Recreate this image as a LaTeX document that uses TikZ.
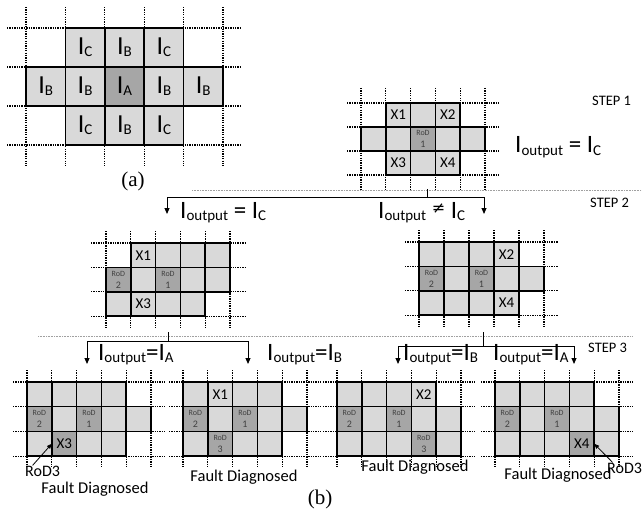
\documentclass[tikz,border=0pt]{standalone}
\usepackage{fontspec}
\setmainfont{Carlito}
\newfontfamily\serifA{Liberation Serif}
\newfontfamily\dejavu{DejaVu Sans}
\usetikzlibrary{arrows.meta}
\definecolor{cellL}{HTML}{D9D9D9}
\definecolor{cellD}{HTML}{A6A6A6}
\definecolor{sepgray}{HTML}{A0A0A0}
\newcommand\Isub[1]{I\raisebox{-2pt}{\fontsize{15}{15}\selectfont #1}}
\newcommand\gridlines[2]{%
  \foreach \i in {0,...,5}{\draw[gdot] ({\gx+\i*\gw},{\gy-#2}) -- ({\gx+\i*\gw},{\gy+3*\gh+#2});}
  \foreach \j in {0,...,3}{\draw[gdot] ({\gx-#1},{\gy+\j*\gh}) -- ({\gx+5*\gw+#1},{\gy+\j*\gh});}}
\newcommand\cel[5]{\node[#4,minimum width=\gw pt,minimum height=\gh pt] (#1) at ({\gx+(#2+0.5)*\gw},{\gy+(#3+0.5)*\gh}) {#5};}
\newcommand\rod[1]{\fontsize{8}{8.5}\selectfont RoD\\#1}
\begin{document}
\begin{tikzpicture}[x=1pt,y=-1pt,
  gdot/.style={line width=1.1pt,dash pattern=on 1.3pt off 1.1pt},
  sepline/.style={sepgray,line width=0.6pt,dash pattern=on 0.8pt off 0.8pt},
  cellbox/.style={draw=black,line width=1.5pt,inner sep=0pt,outer sep=0pt},
  lc/.style={cellbox,fill=cellL,font=\fontsize{15}{15}\selectfont},
  dc/.style={cellbox,fill=cellD,font=\fontsize{15}{15}\selectfont},
  rc/.style={cellbox,fill=cellD,text=black!75,align=center},
  ac/.style={cellbox,font=\fontsize{26}{26}\selectfont},
  ilab/.style={font=\fontsize{25}{25}\selectfont,inner sep=0pt,anchor=base west},
  steplab/.style={font=\fontsize{14.5}{14.5}\selectfont,inner sep=0pt,anchor=base west},
  fdlab/.style={font=\fontsize{16.5}{16.5}\selectfont,inner sep=0pt,anchor=base},
  rodtxt/.style={font=\fontsize{16}{16}\selectfont,inner sep=0pt,anchor=base west},
  arr/.style={line width=1pt,-{Triangle[length=6pt,width=5pt]}},
  rodarr/.style={line width=0.8pt,-{Triangle[length=5pt,width=4pt]}},
  branch/.style={line width=1pt},
]
\fill[white] (0,0) rectangle (642,516);
\useasboundingbox (0,0) rectangle (642,516);

% ---------- (a)
\def\gx{26}\def\gy{28}\def\gw{39.4}\def\gh{39}
\gridlines{19}{21}
\cel{a01}{1}{0}{ac,fill=cellL}{\Isub{C}}
\cel{a02}{2}{0}{ac,fill=cellL}{\Isub{B}}
\cel{a03}{3}{0}{ac,fill=cellL}{\Isub{C}}
\cel{a10}{0}{1}{ac,fill=cellL}{\Isub{B}}
\cel{a11}{1}{1}{ac,fill=cellL}{\Isub{B}}
\cel{a12}{2}{1}{ac,fill=cellD}{\Isub{A}}
\cel{a13}{3}{1}{ac,fill=cellL}{\Isub{B}}
\cel{a14}{4}{1}{ac,fill=cellL}{\Isub{B}}
\cel{a21}{1}{2}{ac,fill=cellL}{\Isub{C}}
\cel{a22}{2}{2}{ac,fill=cellL}{\Isub{B}}
\cel{a23}{3}{2}{ac,fill=cellL}{\Isub{C}}
\node[font=\serifA\fontsize{21}{21}\selectfont] (capa) at (133,181) {(a)};

% ---------- STEP 1
\def\gx{361}\def\gy{103}\def\gw{24.8}\def\gh{24}
\gridlines{14}{15}
\cel{s101}{1}{0}{lc}{X1}
\cel{s102}{2}{0}{lc}{}
\cel{s103}{3}{0}{lc}{X2}
\cel{s110}{0}{1}{lc}{}
\cel{s111}{1}{1}{lc}{}
\cel{s112}{2}{1}{rc}{\rod{1}}
\cel{s113}{3}{1}{lc}{}
\cel{s114}{4}{1}{lc}{}
\cel{s121}{1}{2}{lc}{X3}
\cel{s122}{2}{2}{lc}{}
\cel{s123}{3}{2}{lc}{X4}
\node[steplab] (st1) at (592,106) {STEP 1};
\node[ilab] (l1) at (515,153) {\Isub{output} = \Isub{C}};

% separator step 2
\coordinate (sep2a) at (192,190);
\coordinate (sep2b) at (642,190);
\draw[sepline] (sep2a) -- (sep2b);

% branch step 2
\coordinate (b2top) at (427,189);
\coordinate (b2mid) at (427,197);
\coordinate (b2L) at (167,214);
\coordinate (b2R) at (484,214);
\draw[branch] (b2top) -- (b2mid);
\draw[arr] (b2mid) -| (b2L);
\draw[arr] (b2mid) -| (b2R);
\node[ilab] (l2a) at (180,218) {\Isub{output} = \Isub{C}};
\node[ilab] (l2b) at (378,218) {\Isub{output} \raisebox{5pt}{\dejavu\fontsize{16}{16}\selectfont ≠} \Isub{C}};
\node[steplab] (st2) at (590,207) {STEP 2};

% ---------- STEP 2 left
\def\gx{106}\def\gy{243}\def\gw{24.8}\def\gh{24.4}
\gridlines{15}{12}
\cel{p01}{1}{0}{lc}{X1}
\cel{p02}{2}{0}{lc}{}
\cel{p03}{3}{0}{lc}{}
\cel{p04}{4}{0}{lc}{}
\cel{p10}{0}{1}{rc}{\rod{2}}
\cel{p11}{1}{1}{lc}{}
\cel{p12}{2}{1}{rc}{\rod{1}}
\cel{p13}{3}{1}{lc}{}
\cel{p14}{4}{1}{lc}{}
\cel{p20}{0}{2}{lc}{}
\cel{p21}{1}{2}{lc}{X3}
\cel{p22}{2}{2}{lc}{}
\cel{p23}{3}{2}{lc}{}

% ---------- STEP 2 right
\def\gx{419}\def\gy{242}\def\gw{25}\def\gh{24.4}
\gridlines{14}{12}
\cel{q00}{0}{0}{lc}{}
\cel{q01}{1}{0}{lc}{}
\cel{q02}{2}{0}{lc}{}
\cel{q03}{3}{0}{lc}{X2}
\cel{q10}{0}{1}{rc}{\rod{2}}
\cel{q11}{1}{1}{lc}{}
\cel{q12}{2}{1}{rc}{\rod{1}}
\cel{q13}{3}{1}{lc}{}
\cel{q14}{4}{1}{lc}{}
\cel{q20}{0}{2}{lc}{}
\cel{q21}{1}{2}{lc}{}
\cel{q22}{2}{2}{lc}{}
\cel{q23}{3}{2}{lc}{X4}

% separator step 3
\coordinate (sep3a) at (38,336);
\coordinate (sep3b) at (633,336);
\draw[sepline] (sep3a) -- (sep3b);

% branches step 3
\coordinate (b3top) at (168,332);
\coordinate (b3mid) at (168,341);
\coordinate (b3L) at (87,364);
\coordinate (b3R) at (248,364);
\draw[branch] (b3top) -- (b3mid);
\draw[arr] (b3mid) -| (b3L);
\draw[arr] (b3mid) -| (b3R);
\coordinate (b4top) at (483,332);
\coordinate (b4mid) at (483,346);
\coordinate (b4L) at (398,364);
\coordinate (b4R) at (574,364);
\draw[branch] (b4top) -- (b4mid);
\draw[arr] (b4mid) -| (b4L);
\draw[arr] (b4mid) -| (b4R);
\node[ilab] (l3a) at (98,360) {\Isub{output}=\Isub{A}};
\node[ilab] (l3b) at (267,360) {\Isub{output}=\Isub{B}};
\node[ilab] (l3c) at (403,360) {\Isub{output}=\Isub{B}};
\node[ilab] (l3d) at (493,360) {\Isub{output}=\Isub{A}};
\node[steplab] (st3) at (588,352) {STEP 3};

% ---------- STEP 3 grids
\def\gy{382}\def\gw{24.8}\def\gh{24.7}
% G1
\def\gx{27}
\gridlines{14}{12}
\cel{g100}{0}{0}{lc}{}
\cel{g101}{1}{0}{lc}{}
\cel{g102}{2}{0}{lc}{}
\cel{g103}{3}{0}{lc}{}
\cel{g110}{0}{1}{rc}{\rod{2}}
\cel{g111}{1}{1}{lc}{}
\cel{g112}{2}{1}{rc}{\rod{1}}
\cel{g113}{3}{1}{lc}{}
\cel{g114}{4}{1}{lc}{}
\cel{g120}{0}{2}{lc}{}
\cel{g121}{1}{2}{dc}{X3}
\cel{g122}{2}{2}{lc}{}
\cel{g123}{3}{2}{lc}{}
% G2
\def\gx{183}
\gridlines{14}{12}
\cel{g200}{0}{0}{lc}{}
\cel{g201}{1}{0}{lc}{X1}
\cel{g202}{2}{0}{lc}{}
\cel{g203}{3}{0}{lc}{}
\cel{g210}{0}{1}{rc}{\rod{2}}
\cel{g211}{1}{1}{lc}{}
\cel{g212}{2}{1}{rc}{\rod{1}}
\cel{g213}{3}{1}{lc}{}
\cel{g214}{4}{1}{lc}{}
\cel{g220}{0}{2}{lc}{}
\cel{g221}{1}{2}{rc}{\rod{3}}
\cel{g222}{2}{2}{lc}{}
\cel{g223}{3}{2}{lc}{}
% G3
\def\gx{337}
\gridlines{14}{12}
\cel{g300}{0}{0}{lc}{}
\cel{g301}{1}{0}{lc}{}
\cel{g302}{2}{0}{lc}{}
\cel{g303}{3}{0}{lc}{X2}
\cel{g310}{0}{1}{rc}{\rod{2}}
\cel{g311}{1}{1}{lc}{}
\cel{g312}{2}{1}{rc}{\rod{1}}
\cel{g313}{3}{1}{lc}{}
\cel{g314}{4}{1}{lc}{}
\cel{g320}{0}{2}{lc}{}
\cel{g321}{1}{2}{lc}{}
\cel{g322}{2}{2}{lc}{}
\cel{g323}{3}{2}{rc}{\rod{3}}
\cel{g324}{4}{2}{lc}{}
% G4
\def\gx{495}
\gridlines{14}{12}
\cel{g400}{0}{0}{lc}{}
\cel{g401}{1}{0}{lc}{}
\cel{g402}{2}{0}{lc}{}
\cel{g403}{3}{0}{lc}{}
\cel{g410}{0}{1}{rc}{\rod{2}}
\cel{g411}{1}{1}{lc}{}
\cel{g412}{2}{1}{rc}{\rod{1}}
\cel{g413}{3}{1}{lc}{}
\cel{g414}{4}{1}{lc}{}
\cel{g420}{0}{2}{lc}{}
\cel{g421}{1}{2}{lc}{}
\cel{g422}{2}{2}{lc}{}
\cel{g423}{3}{2}{dc}{X4}
\cel{g424}{4}{2}{lc}{}

% labels below
\node[rodtxt] (r3a) at (25,476) {RoD3};
\draw[rodarr] ([xshift=-10pt]r3a.north) -- (g121.west);
\node[rodtxt] (r3b) at (607,473) {RoD3};
\draw[rodarr] ([xshift=-12pt]r3b.north) -- (g423.east);
\node[fdlab] (fd1) at (95,493) {Fault Diagnosed};
\node[fdlab] (fd2) at (244,481) {Fault Diagnosed};
\node[fdlab] (fd3) at (415,471) {Fault Diagnosed};
\node[fdlab] (fd4) at (558,479) {Fault Diagnosed};
\node[font=\serifA\fontsize{21}{21}\selectfont] (capb) at (320,499) {(b)};
\end{tikzpicture}
\end{document}
